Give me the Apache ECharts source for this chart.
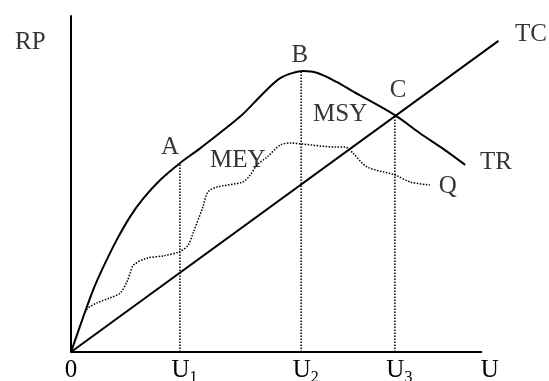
<!DOCTYPE html>
<html>
<head>
<meta charset="utf-8">
<script src="https://cdn.jsdelivr.net/npm/echarts@6/dist/echarts.min.js"></script>
<style>
  html, body { margin: 0; background: #fff; }
  #chart { width: 549px; height: 381px; }
</style>
</head>
<body>
<div id="chart"></div>
<script>
// effort U on x, revenue / cost on y, relative units (drawn U axis runs 0..100)
const tickValues = [0, 26.5, 56, 78.8, 101.9];
const tickLabels = ['0', 'U1', 'U2', 'U3', 'U'];
const uAxisExtent = [[0, 0], [100, 0]];

// total revenue curve TR (rises, peaks at B, falls)
const trCurve = [
  [0, 0], [3.0, 10.5], [5.4, 18.5], [7.9, 25.4], [11.1, 33.3], [14.4, 40.3],
  [17.6, 45.7], [21.7, 51.2], [26.5, 56.2], [31.4, 60.6],
  [41.1, 70.0], [44.4, 74.0], [47.6, 78.0], [50.9, 81.5], [54.1, 83.1],
  [56.5, 83.6], [59.8, 83.1], [64.6, 80.4], [68.7, 77.5],
  [78.8, 70.5], [84.9, 65.1], [91.0, 60.1], [95.9, 55.7]
];

// dotted curve Q
const qCurve = [
  [0, 0], [1.4, 4.6], [3.8, 12.6], [6.3, 14.6], [9.5, 16.1], [12.0, 17.6],
  [13.5, 20.6], [14.4, 23.5], [15.2, 25.9], [18.4, 27.9], [22.4, 28.6],
  [26.5, 29.9], [28.5, 31.8], [29.7, 35.4], [32.1, 43.2], [33.3, 47.6],
  [35.5, 49.1], [41.8, 50.6], [43.6, 52.7], [45.3, 55.7], [47.7, 58.0],
  [50.9, 61.6], [53.3, 62.2], [56.2, 61.9], [64.7, 61.0], [66.7, 61.0],
  [68.6, 59.2], [72.0, 55.1], [78.8, 52.7], [82.5, 50.6], [87.3, 49.7]
];

// total cost line TC
const tcLine = [[0, 0], [104, 92.6]];

// points A, B, C on TR, dropped to the U axis
const dropPoints = [[26.5, 56.2], [56.0, 83.5], [78.8, 70.5]];

// text annotations [x, y, text]
const annotations = [
  [-9.9, 92.0, 'RP'],
  [111.9, 94.6, 'TC'],
  [55.7, 88.4, 'B'],
  [79.6, 77.7, 'C'],
  [65.5, 70.8, 'MSY'],
  [103.4, 56.3, 'TR'],
  [91.7, 49.4, 'Q'],
  [24.1, 61.0, 'A'],
  [40.6, 57.1, 'MEY']
];

const FONT = 'Liberation Serif';
const chart = echarts.init(document.getElementById('chart'), null, { renderer: 'canvas' });

const dropSeries = dropPoints.map((p) => ({
  type: 'line',
  data: [[p[0], 0], p],
  symbol: 'none',
  silent: true,
  lineStyle: { color: '#000', width: 1.5, type: 'dotted' }
}));

chart.setOption({
  animation: false,
  grid: { left: 71, top: 16, width: 472.65, height: 336, outerBoundsMode: 'none', containLabel: false },
  xAxis: {
    type: 'value', min: 0, max: 115,
    axisLine: { show: false },
    axisTick: { show: false },
    splitLine: { show: false },
    axisLabel: {
      customValues: tickValues,
      margin: 6,
      color: '#000',
      formatter: (v) => {
        const t = tickLabels[tickValues.indexOf(v)];
        if (!t) return '';
        if (t.length > 1) return '{u|' + t[0] + '}{s|' + t.slice(1) + '}';
        return '{z|' + t + '}';
      },
      rich: {
        z: { fontFamily: FONT, fontSize: 25, color: '#000', verticalAlign: 'bottom', padding: [0, 0, 3, 0] },
        u: { fontFamily: FONT, fontSize: 25, color: '#000', verticalAlign: 'bottom', padding: [0, 0, 3, 9] },
        s: { fontFamily: FONT, fontSize: 16, color: '#000', verticalAlign: 'bottom' }
      }
    }
  },
  yAxis: {
    type: 'value', min: 0, max: 100,
    axisLine: { show: true, lineStyle: { color: '#000', width: 2 } },
    axisTick: { show: false },
    axisLabel: { show: false },
    splitLine: { show: false }
  },
  series: [
    {
      type: 'line', data: uAxisExtent, symbol: 'none', silent: true,
      lineStyle: { color: '#000', width: 2 }
    },
    ...dropSeries,
    {
      type: 'line', data: qCurve, symbol: 'none', smooth: 0.3, silent: true,
      lineStyle: { color: '#000', width: 1.5, type: 'dotted' }
    },
    {
      type: 'line', data: tcLine, symbol: 'none', silent: true,
      lineStyle: { color: '#000', width: 2 }
    },
    {
      type: 'line', data: trCurve, symbol: 'none', smooth: 0.35, silent: true,
      lineStyle: { color: '#000', width: 2 }
    },
    {
      type: 'scatter', data: annotations, symbolSize: 0, silent: true, clip: false,
      label: {
        show: true, position: 'inside', color: '#000',
        fontFamily: FONT, fontSize: 25,
        formatter: (p) => p.data[2]
      }
    }
  ]
});
</script>
</body>
</html>
